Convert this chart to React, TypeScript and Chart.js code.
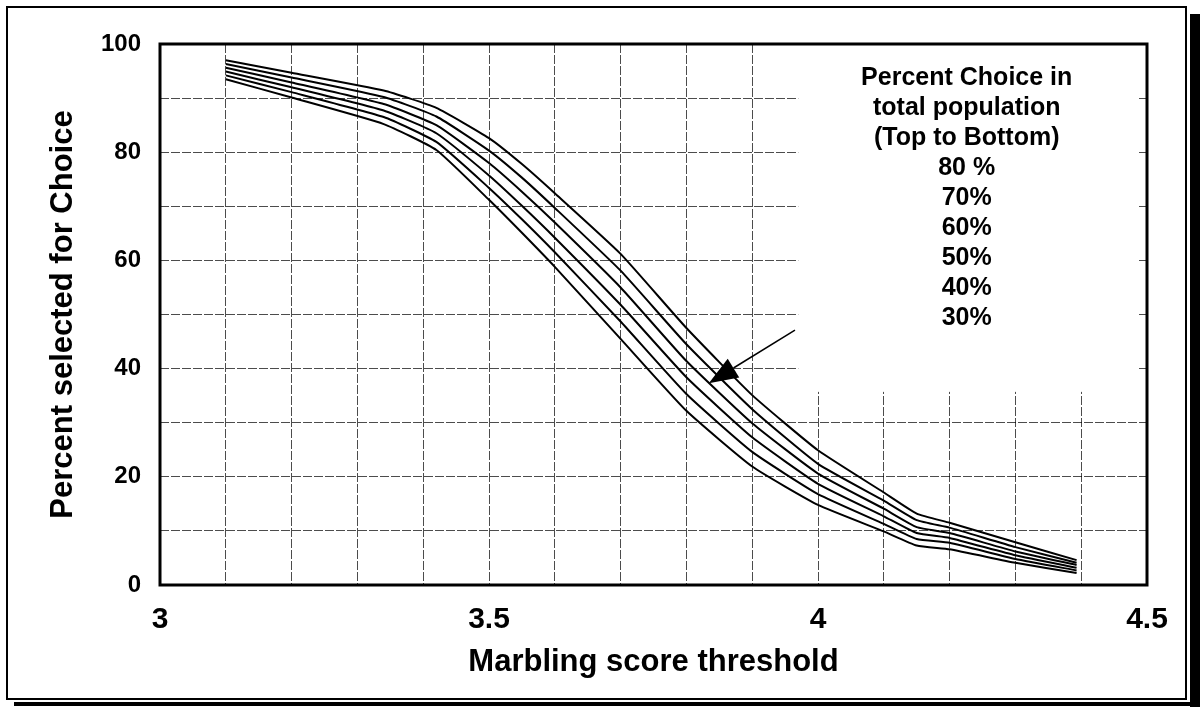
import React, { useEffect, useRef } from "react";
import { Chart, registerables } from "chart.js";

Chart.register(...registerables);

// ---- data ----
const X_VALUES = [3.1, 3.2, 3.34, 3.42, 3.5, 3.55, 3.6, 3.7, 3.8, 3.9, 4.0, 4.1, 4.15, 4.2, 4.3, 4.393];
const CHOICE_80 = [97.0, 94.7, 91.4, 88.2, 82.6, 77.8, 72.4, 61.2, 47.5, 35.1, 24.9, 17.1, 13.2, 11.5, 7.9, 4.6];
const CHOICE_70 = [96.3, 93.8, 90.2, 86.6, 80.3, 75.3, 69.7, 58.1, 44.5, 32.5, 22.4, 15.6, 12.0, 10.6, 7.0, 4.1];
const CHOICE_60 = [95.6, 92.9, 88.9, 85.0, 78.0, 72.7, 67.0, 55.0, 41.4, 29.9, 20.6, 14.1, 10.7, 9.6, 6.2, 3.7];
const CHOICE_50 = [94.9, 92.0, 87.7, 83.5, 75.7, 70.1, 64.2, 51.8, 38.4, 27.3, 18.7, 12.7, 9.6, 8.7, 5.5, 3.2];
const CHOICE_40 = [94.2, 91.1, 86.5, 81.9, 73.4, 67.6, 61.5, 48.7, 35.3, 24.6, 16.8, 11.3, 8.5, 7.8, 4.8, 2.7];
const CHOICE_30 = [93.5, 90.1, 85.2, 80.4, 71.2, 65.1, 58.8, 45.5, 32.2, 21.9, 14.8, 9.9, 7.3, 6.6, 4.1, 2.2];
const SERIES = [CHOICE_80, CHOICE_70, CHOICE_60, CHOICE_50, CHOICE_40, CHOICE_30];
const SERIES_NAMES = ["80 %", "70%", "60%", "50%", "40%", "30%"];

const LEGEND_LINES = ["Percent Choice in", "total population", "(Top to Bottom)", ...SERIES_NAMES];

const X_TITLE = "Marbling score threshold";
const Y_TITLE = "Percent selected for Choice";

// annotation geometry in data units
const LEGEND_BOX = { x0: 3.97, x1: 4.485, yBottom: 35.7, textX: 4.226 };
const ARROW_FROM = { x: 3.965, y: 47.1 };
const ARROW_TO = { x: 3.834, y: 37.3 };

const FONT = '"Liberation Sans", Arial, Helvetica, sans-serif';

const overlayPlugin = {
  id: "overlay",
  beforeDatasetsDraw(chart: any) {
    const { ctx, chartArea } = chart;
    const x = chart.scales.x;
    const y = chart.scales.y;
    ctx.save();
    const bx0 = x.getPixelForValue(LEGEND_BOX.x0);
    const bx1 = x.getPixelForValue(LEGEND_BOX.x1);
    const by1 = y.getPixelForValue(LEGEND_BOX.yBottom);
    ctx.fillStyle = "#ffffff";
    ctx.fillRect(bx0, chartArea.top, bx1 - bx0, by1 - chartArea.top);
    ctx.fillStyle = "#000";
    ctx.font = `bold 25px ${FONT}`;
    ctx.textAlign = "center";
    ctx.textBaseline = "middle";
    const cx = x.getPixelForValue(LEGEND_BOX.textX);
    LEGEND_LINES.forEach((t, i) => {
      ctx.fillText(t, cx, chartArea.top + 34 + i * 30);
    });
    ctx.restore();
  },
  afterDatasetsDraw(chart: any) {
    const { ctx, chartArea } = chart;
    const x = chart.scales.x;
    const y = chart.scales.y;
    ctx.save();
    ctx.strokeStyle = "#000";
    ctx.lineWidth = 3;
    ctx.strokeRect(chartArea.left, chartArea.top, chartArea.right - chartArea.left, chartArea.bottom - chartArea.top);

    // arrow
    const x0 = x.getPixelForValue(ARROW_FROM.x);
    const y0 = y.getPixelForValue(ARROW_FROM.y);
    const x1 = x.getPixelForValue(ARROW_TO.x);
    const y1 = y.getPixelForValue(ARROW_TO.y);
    const ang = Math.atan2(y1 - y0, x1 - x0);
    const headLen = 29;
    const headHalf = 11;
    const bx = x1 - headLen * Math.cos(ang);
    const by = y1 - headLen * Math.sin(ang);
    ctx.lineWidth = 1.5;
    ctx.beginPath();
    ctx.moveTo(x0, y0);
    ctx.lineTo(bx, by);
    ctx.stroke();
    ctx.fillStyle = "#000";
    ctx.beginPath();
    ctx.moveTo(x1, y1);
    ctx.lineTo(bx + headHalf * Math.sin(ang), by - headHalf * Math.cos(ang));
    ctx.lineTo(bx - headHalf * Math.sin(ang), by + headHalf * Math.cos(ang));
    ctx.closePath();
    ctx.fill();
    ctx.restore();
  },
};

export default function App() {
  const canvasRef = useRef<HTMLCanvasElement | null>(null);

  useEffect(() => {
    if (!canvasRef.current) return;
    const datasets = SERIES.map((vals, i) => ({
      label: SERIES_NAMES[i],
      data: X_VALUES.map((xv, j) => ({ x: xv, y: vals[j] })),
      borderColor: "#000",
      borderWidth: 2,
      pointRadius: 0,
      fill: false,
      tension: 0.15,
    }));
    const gridColor = "rgba(0,0,0,0.7)";
    const chart = new Chart(canvasRef.current, {
      type: "line",
      data: { datasets },
      options: {
        animation: false,
        responsive: false,
        maintainAspectRatio: false,
        layout: { padding: { left: 45, right: 54, top: 44, bottom: 26 } },
        plugins: { legend: { display: false }, tooltip: { enabled: false } },
        scales: {
          x: {
            type: "linear",
            min: 3,
            max: 4.5,
            afterFit: (s: any) => {
              s.height = 96;
            },
            ticks: {
              stepSize: 0.1,
              autoSkip: false,
              maxRotation: 0,
              padding: 17,
              color: "#000",
              font: { family: FONT, size: 30, weight: "bold" },
              callback: (v: any) => {
                const n = Number(v);
                return Math.abs(n * 2 - Math.round(n * 2)) < 1e-6 ? String(Math.round(n * 10) / 10) : "";
              },
            },
            grid: { color: gridColor, lineWidth: 1, drawTicks: false },
            border: { display: false, dash: [9, 2] },
            title: {
              display: true,
              text: X_TITLE,
              color: "#000",
              padding: 0,
              font: { family: FONT, size: 31, weight: "bold" },
            },
          },
          y: {
            type: "linear",
            min: 0,
            max: 100,
            afterFit: (s: any) => {
              s.width = 115;
            },
            ticks: {
              stepSize: 10,
              autoSkip: false,
              padding: 19,
              color: "#000",
              font: { family: FONT, size: 24, weight: "bold" },
              callback: (v: any) => (Number(v) % 20 === 0 ? String(v) : ""),
            },
            grid: { color: gridColor, lineWidth: 1, drawTicks: false },
            border: { display: false, dash: [9, 2] },
            title: {
              display: true,
              text: Y_TITLE,
              color: "#000",
              padding: 0,
              font: { family: FONT, size: 31, weight: "bold" },
            },
          },
        },
      },
      plugins: [overlayPlugin],
    });
    return () => chart.destroy();
  }, []);

  return (
    <div style={{ position: "absolute", left: 0, top: 0, width: 1201, height: 707, background: "#fff", overflow: "hidden" }}>
      <div
        style={{
          position: "absolute",
          left: 6,
          top: 6,
          width: 1181,
          height: 694,
          border: "2px solid #000",
          boxSizing: "border-box",
        }}
      />
      <div style={{ position: "absolute", left: 1190, top: 14, width: 10, height: 693, background: "#000" }} />
      <div style={{ position: "absolute", left: 14, top: 702, width: 1186, height: 4, background: "#000" }} />
      <canvas ref={canvasRef} width={1201} height={707} style={{ position: "absolute", left: 0, top: 0 }} />
    </div>
  );
}
